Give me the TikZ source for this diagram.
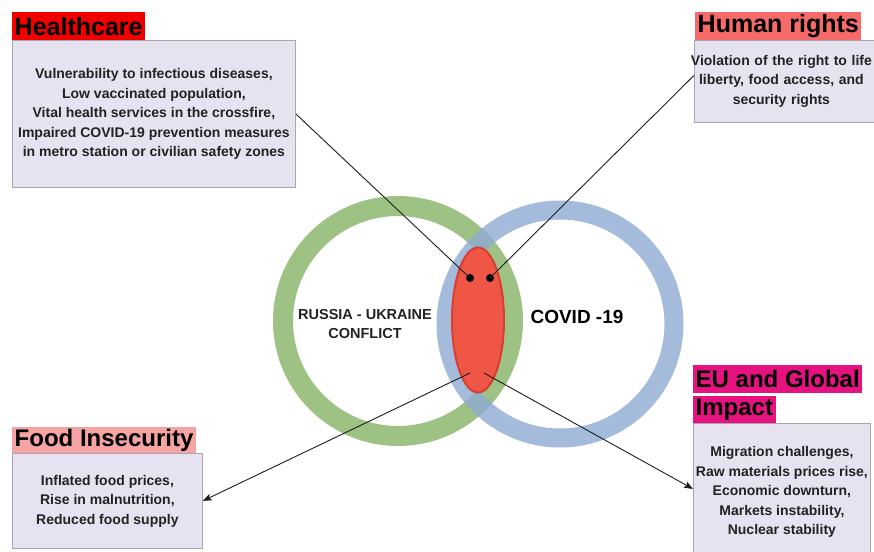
\documentclass[tikz,border=0pt]{standalone}
\usepackage{fontspec}
\setmainfont{Liberation Sans}
\usetikzlibrary{shapes.geometric,arrows.meta}
\definecolor{ringgreen}{HTML}{9DC284}
\definecolor{ringblue}{HTML}{8FAAD3}
\definecolor{lensred}{HTML}{EF5646}
\definecolor{lensedge}{HTML}{D63F2F}
\definecolor{bodyfill}{HTML}{E7E2EF}
\definecolor{bodyline}{HTML}{A9A5B5}
\definecolor{hcred}{HTML}{F20000}
\definecolor{hrred}{HTML}{F76A6A}
\definecolor{fipink}{HTML}{F5A3A3}
\definecolor{eumag}{HTML}{E5127F}
\definecolor{textgray}{HTML}{222222}
\definecolor{linkgray}{HTML}{1E1E1E}
\begin{document}
\begin{tikzpicture}[x=1pt,y=-1pt,
  heading/.style={anchor=north west, inner xsep=2.5pt, inner ysep=0pt, text=black},
  bigfont/.style={font=\fontsize{25}{28}\selectfont\bfseries},
  midfont/.style={font=\fontsize{24}{27}\selectfont\bfseries},
  body/.style={anchor=north west, draw=bodyline, fill=bodyfill, line width=0.8pt, align=center,
    font=\fontsize{14}{19.5}\selectfont\bfseries, text=textgray, inner sep=0pt},
  link/.style={draw=linkgray, line width=0.9pt},
  arrowlink/.style={link, -{Stealth[length=9pt,width=7pt,inset=2pt]}},
  dot/.style={circle, fill=black, minimum size=8pt, inner sep=0pt},
  ring/.style={circle, inner sep=0pt}
]
\useasboundingbox (0,0) rectangle (874,551);
\clip (0,0) rectangle (874,551);
\fill[white] (0,0) rectangle (874,551);

% rings
\node[ring, draw=ringgreen, line width=20pt, minimum size=230pt] (ru) at (398,321) {};
\node[ring, draw=ringblue, draw opacity=0.8, line width=19pt, minimum size=228pt] (cov) at (560,324) {};
\node[ellipse, fill=lensred, draw=lensedge, line width=2pt, minimum width=52pt, minimum height=145pt, inner sep=0pt] (lens) at (478,320) {};

\node[font=\fontsize{14.5}{19}\selectfont\bfseries, align=center, text=textgray] (ruT) at (365,324) {RUSSIA - UKRAINE\\CONFLICT};
\node[font=\fontsize{19}{22}\selectfont\bfseries, text=black] (covT) at (577,317) {COVID -19};

% headings
\node[heading, bigfont, fill=hcred, minimum height=28pt] (hcT) at (12,12) {Healthcare};
\node[heading, bigfont, fill=hrred, minimum height=28pt] (hrT) at (695,12) {Human rights};
\node[heading, midfont, fill=fipink, minimum height=26pt] (fiT) at (12,427) {Food Insecurity};
\node[heading, midfont, fill=eumag, minimum height=28pt] (euT1) at (693,365) {EU and Global};
\node[heading, midfont, fill=eumag, minimum height=27pt] (euT2) at (693,396) {Impact};

% bodies
\node[body, minimum width=283pt, minimum height=147pt] (hcB) at (12,40) {Vulnerability to infectious diseases,\\Low vaccinated population,\\Vital health services in the crossfire,\\Impaired COVID-19 prevention measures\\in metro station or civilian safety zones};
\node[body, align=left, text width=190pt, minimum height=82pt] (hrB) at (694,40) {\makebox[174pt][c]{Violation of the right to life}\\\makebox[174pt][c]{liberty, food access, and}\\\makebox[174pt][c]{security rights}};
\node[body, minimum width=190pt, minimum height=95pt] (fiB) at (12,453) {Inflated food prices,\\Rise in malnutrition,\\Reduced food supply};
\node[body, minimum width=177pt, minimum height=137pt] (euB) at (693,423) {Migration challenges,\\Raw materials prices rise,\\Economic downturn,\\Markets instability,\\Nuclear stability};

% dots and link points
\node[dot] (d1) at (470,278) {};
\node[dot] (d2) at (490,278) {};
\coordinate (l1) at (470,373);
\coordinate (l2) at (484,373);

\draw[link] (hcB.east) -- (d1.center);
\draw[link] ([yshift=6pt]hrB.west) -- (d2.center);
\draw[arrowlink] (l1) -- (fiB.east);
\draw[arrowlink] (l2) -- ([yshift=3pt]euB.west);
\end{tikzpicture}
\end{document}
